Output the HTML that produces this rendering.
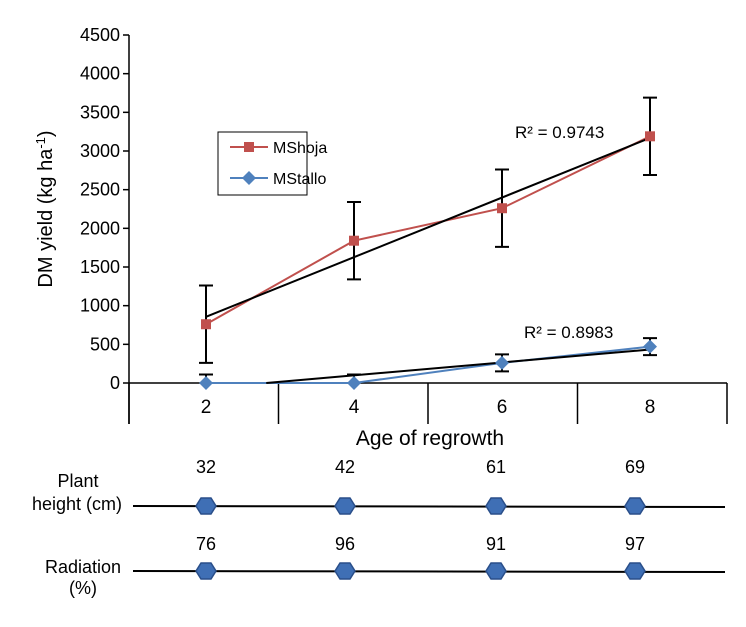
<!DOCTYPE html>
<html><head><meta charset="utf-8"><style>
body{margin:0;background:#fff}
svg text{font-family:"Liberation Sans",Arial,sans-serif;fill:#000}
</style></head><body>
<svg width="746" height="622" viewBox="0 0 746 622">
<g id="plot"></g>
</svg>
<script>
const categories=[2,4,6,8];
const mshoja=[760,1840,2260,3190];
const mshojaErr=[500,500,500,500];
const mstallo=[0,0,260,470];
const mstalloErr=[110,110,110,110];
const yTicks=[0,500,1000,1500,2000,2500,3000,3500,4000,4500];
const plantHeight=[32,42,61,69];
const radiation=[76,96,91,97];

const NS="http://www.w3.org/2000/svg";
const g=document.getElementById('plot');
function el(t,a,txt){const e=document.createElementNS(NS,t);for(const k in a)e.setAttribute(k,a[k]);if(txt!==undefined)e.textContent=txt;g.appendChild(e);return e;}
const X0=129,X1=727,Y0=383,YT=35,YMAX=4500;
const bw=(X1-X0)/categories.length;
const PX0=206,PBW=148;
const xs=i=>PX0+PBW*i;
const ys=v=>Y0-(v/YMAX)*(Y0-YT);

let e=el('line',{x1:X0,y1:YT,x2:X0,y2:424,stroke:'#000','stroke-width':1.5});

e=el('line',{x1:X0,y1:Y0,x2:X1,y2:Y0,stroke:'#000','stroke-width':1.5});

yTicks.forEach(t=>{
 const y=ys(t);
 let l=el('line',{x1:X0-6,y1:y,x2:X0,y2:y,stroke:'#000','stroke-width':1.5});
 
 let tx=el('text',{x:X0-9,y:y+6,'text-anchor':'end','font-size':18},t);
 
});
for(let i=0;i<=categories.length;i++){
 const x=X0+bw*i;
 let l=el('line',{x1:x,y1:Y0,x2:x,y2:424,stroke:'#000','stroke-width':1.5});
 
}
categories.forEach((c,i)=>{
 let tx=el('text',{x:xs(i),y:413,'text-anchor':'middle','font-size':19},c);
 
});
e=el('text',{x:430,y:445,'text-anchor':'middle','font-size':21},'Age of regrowth');

e=el('text',{x:0,y:0,'text-anchor':'middle','font-size':20,transform:'translate(52,209) rotate(-90)'});
e.innerHTML='DM yield (kg ha<tspan dy="-7" font-size="13">-1</tspan><tspan dy="7">)</tspan>';


function trend(vals){
 const n=vals.length,mx=(n+1)/2,my=vals.reduce((a,b)=>a+b,0)/n;
 let num=0,den=0;vals.forEach((v,i)=>{num+=(i+1-mx)*(v-my);den+=(i+1-mx)**2;});
 const s=num/den,b=my-s*mx;return [s,b];
}
function drawTrend(vals,name){
 const [s,b]=trend(vals);
 let x1=1,x2=vals.length;
 if(s*x1+b<0)x1=-b/s;
 const px=x=>xs(0)+(x-1)*PBW;
 let l=el('line',{x1:px(x1),y1:ys(s*x1+b),x2:px(x2),y2:ys(s*x2+b),stroke:'#000','stroke-width':2});
 
}
function drawSeries(vals,errs,color,name){
 let pts=vals.map((v,i)=>xs(i)+','+ys(v)).join(' ');
 let p=el('polyline',{points:pts,fill:'none',stroke:color,'stroke-width':2});
 
 vals.forEach((v,i)=>{
  const x=xs(i),hi=ys(v+errs[i]),lo=ys(Math.max(0,v-errs[i]));
  let eb=el('path',{d:`M${x},${hi}V${lo}M${x-7},${hi}H${x+7}`+(v-errs[i]>0?`M${x-7},${lo}H${x+7}`:''),stroke:'#000','stroke-width':2,fill:'none'});
  
 });
}
function drawMarkers(vals,color,marker,name){
 vals.forEach((v,i)=>{
  const x=xs(i),y=ys(v);
  let m;
  if(marker==='sq')m=el('rect',{x:x-5,y:y-5,width:10,height:10,fill:color});
  else m=el('path',{d:`M${x},${y-7}L${x+7},${y}L${x},${y+7}L${x-7},${y}Z`,fill:color});
  
 });
}
drawSeries(mshoja,mshojaErr,'#c0504d','mshoja');
drawSeries(mstallo,mstalloErr,'#4f81bd','mstallo');
drawTrend(mshoja,'mshoja-trendline');
drawTrend(mstallo,'mstallo-trendline');
drawMarkers(mshoja,'#c0504d','sq','mshoja');
drawMarkers(mstallo,'#4f81bd','dia','mstallo');

e=el('text',{x:515,y:138,'font-size':17},'R² = 0.9743');

e=el('text',{x:524,y:338,'font-size':17},'R² = 0.8983');


e=el('rect',{x:218,y:132,width:89,height:63,fill:'#fff',stroke:'#000','stroke-width':1});

el('line',{x1:230,y1:147,x2:268,y2:147,stroke:'#c0504d','stroke-width':2});
el('rect',{x:244,y:142,width:10,height:10,fill:'#c0504d'});
e=el('text',{x:273,y:153,'font-size':16},'MShoja');

el('line',{x1:230,y1:178,x2:268,y2:178,stroke:'#4f81bd','stroke-width':2});
el('path',{d:'M249,171L256,178L249,185L242,178Z',fill:'#4f81bd'});
e=el('text',{x:273,y:184,'font-size':16},'MStallo');


const hx=[206,345,496,635];
function row(vals,ly,ty,name){
 let l=el('line',{x1:133,y1:ly,x2:725,y2:ly+1,stroke:'#000','stroke-width':2});
 
 vals.forEach((v,i)=>{
  const x=hx[i];
  let h=el('path',{d:`M${x-10},${ly}L${x-5},${ly-8}H${x+5}L${x+10},${ly}L${x+5},${ly+8}H${x-5}Z`,fill:'#3f6fb5',stroke:'#2a4f8a','stroke-width':1.5});
  
  let t=el('text',{x:x,y:ty,'text-anchor':'middle','font-size':18},v);
  
 });
}
row(plantHeight,506,473,'plant-height');
row(radiation,571,550,'radiation');
e=el('text',{x:78,y:487,'text-anchor':'middle','font-size':18},'Plant');

el('text',{x:77,y:510,'text-anchor':'middle','font-size':18},'height (cm)');
e=el('text',{x:83,y:573,'text-anchor':'middle','font-size':18},'Radiation');

el('text',{x:83,y:594,'text-anchor':'middle','font-size':18},'(%)');
</script>
</body></html>
